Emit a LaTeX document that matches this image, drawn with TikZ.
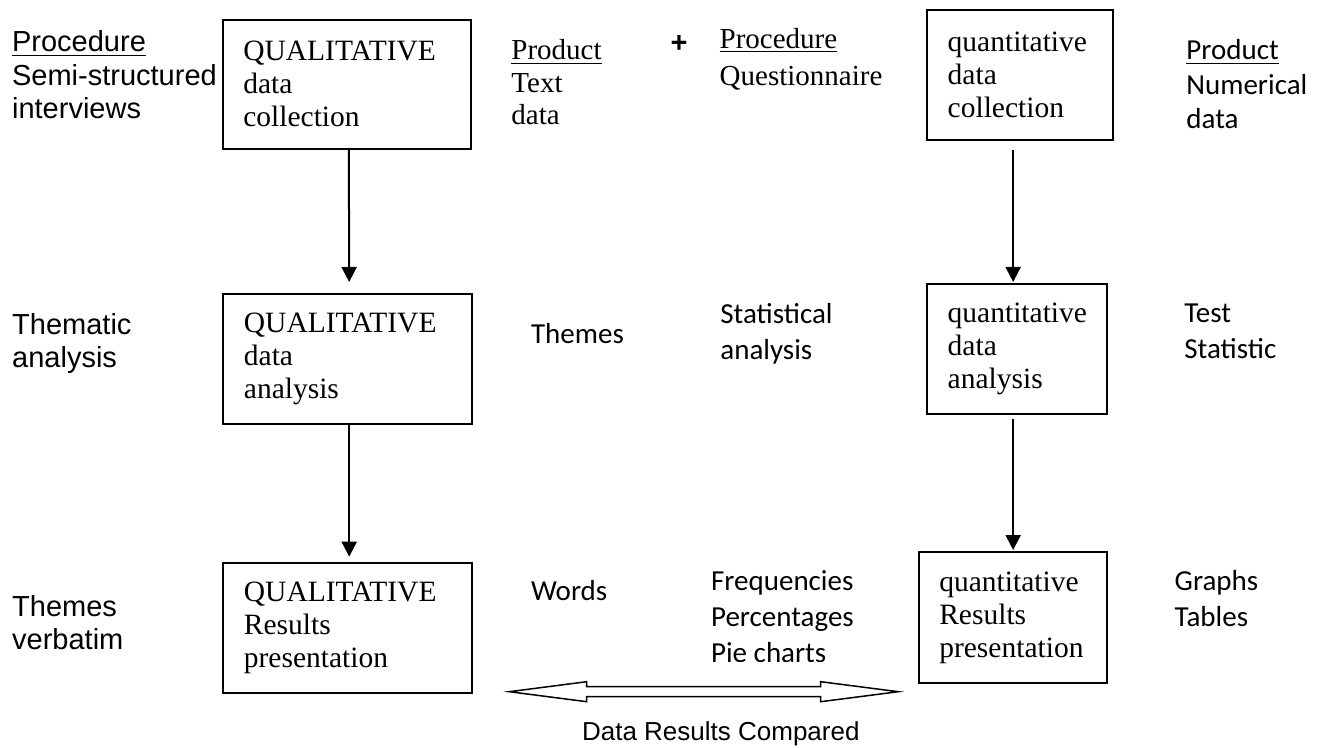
\documentclass[tikz,border=0pt]{standalone}
\usepackage{fontspec}
\setmainfont{Liberation Serif}
\newfontfamily\arialf{Liberation Sans}
\newfontfamily\calibrif{Carlito}
\usetikzlibrary{arrows.meta,calc}
\hfuzz=200pt
\hbadness=10000
\begin{document}
\begin{tikzpicture}[x=0.5pt,y=-0.5pt,
  box/.style={draw,line width=1pt,rectangle,inner ysep=0pt,align=left,
    font=\fontsize{14.75}{16.5}\selectfont},
  arr/.style={line width=1pt,-{Triangle[width=7.5pt,length=7.5pt]}},
  lbl/.style={anchor=base west,inner sep=0pt,align=left},
  arial/.style={font=\arialf\fontsize{14.5}{16.75}\selectfont},
  calib/.style={font=\calibrif\fontsize{14.5}{17.8}\selectfont},
  times/.style={font=\fontsize{14.5}{16.25}\selectfont}]
\useasboundingbox (0,0) rectangle (1321,748);

% boxes
\node[box,minimum width=124.15pt,minimum height=64.65pt,inner xsep=10.3pt,text width=103.55pt]
  (q1) at (346.85,84.35) {QUALITATIVE\\data\\collection};
\node[box,minimum width=124.5pt,minimum height=65.15pt,inner xsep=10.6pt,text width=103.3pt]
  (q2) at (347.2,359.15) {QUALITATIVE\\data\\analysis};
\node[box,minimum width=124.5pt,minimum height=65pt,inner xsep=10.6pt,text width=103.3pt]
  (q3) at (347.2,627.7) {QUALITATIVE\\Results\\presentation};
\node[box,minimum width=93pt,minimum height=65pt,inner xsep=10.5pt,text width=72pt]
  (q4) at (1019.7,75) {quantitative\\data\\collection};
\node[box,minimum width=90.3pt,minimum height=65.15pt,inner xsep=10.5pt,text width=69.3pt]
  (q5) at (1017,349.15) {quantitative\\data\\analysis};
\node[box,minimum width=94.15pt,minimum height=65.2pt,inner xsep=10.15pt,text width=73.85pt]
  (q6) at (1013.15,617.5) {quantitative\\Results\\presentation};

% arrows
\draw[arr,shorten >=5.5pt] ([xshift=1pt]q1.south) -- ([xshift=1pt]q2.north);
\draw[arr,shorten >=2.5pt] ([xshift=1pt]q2.south) -- ([xshift=1pt]q3.north);
\draw[arr,shorten <=4.65pt,shorten >=0.5pt] (q4.south -| q6.center) -- (q5.north -| q6.center);
\draw[arr,shorten <=1.7pt,shorten >=0.65pt] (q5.south -| q6.center) -- (q6.north);

% left labels (anchored at the baseline of their last line)
\node[lbl,arial] (l1) at (11.7,119) {\underline{Procedure}\\Semi-structured\\interviews};
\node[lbl,arial] (l2) at (11.8,367.5) {Thematic\\analysis};
\node[lbl,arial] (l3) at (11.8,649.5) {Themes\\verbatim};

% top labels
\node[lbl,times] (pl) at (511,125) {\underline{Product}\\Text\\data};
\node[inner sep=0pt,font=\arialf\bfseries\fontsize{14.5}{16}\selectfont] (plus) at (679,44) {+};
\node[lbl,font=\fontsize{14.5}{18.85}\selectfont] (pr) at (719.3,86) {\underline{Procedure}\\Questionnaire};
\node[lbl,font=\calibrif\fontsize{14.5}{17.25}\selectfont] (pn) at (1186,129) {\underline{Product}\\Numerical\\data};

% middle labels
\node[lbl,calib] (th) at (530.7,343.3) {Themes};
\node[lbl,calib] (st) at (720,359) {Statistical\\analysis};
\node[lbl,calib] (ts) at (1184,358.3) {Test\\Statistic};

% bottom labels
\node[lbl,calib] (wd) at (530.7,600.7) {Words};
\begin{scope}
  \clip (700,560) rectangle (900,661.5);
  \node[lbl,font=\calibrif\fontsize{14.5}{18}\selectfont] (fq) at (710.7,662.7) {Frequencies\\Percentages\\Pie charts};
\end{scope}
\node[lbl,font=\calibrif\fontsize{14.5}{18}\selectfont] (gr) at (1174.3,626.7) {Graphs\\Tables};

% double arrow
\draw[line width=0.75pt,line join=miter]
  (509.3,691.7) -- (586.7,681.7) -- (586.7,686.7) -- (820.7,686.7) -- (820.7,681.7)
  -- (898.3,691.7) -- (820.7,701.7) -- (820.7,696.7) -- (586.7,696.7) -- (586.7,701.7) -- cycle;
\node[lbl,font=\arialf\fontsize{13}{15}\selectfont] (dc) at (581.7,740) {Data Results Compared};
\end{tikzpicture}
\end{document}
